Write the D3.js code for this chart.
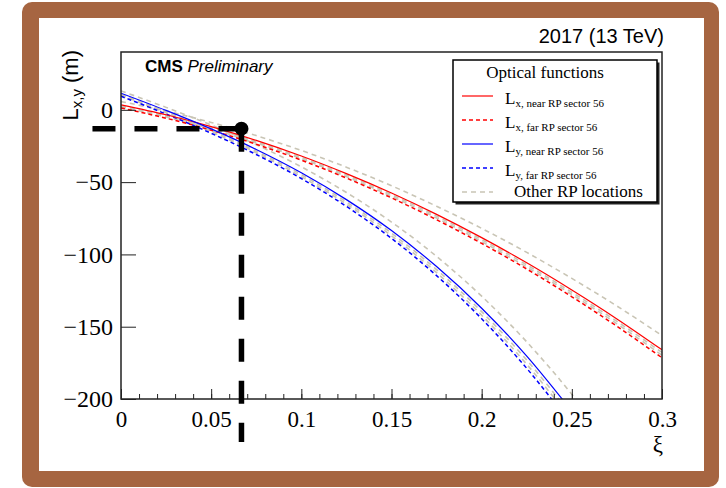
<!DOCTYPE html>
<html>
<head>
<meta charset="utf-8">
<script src="https://cdn.jsdelivr.net/npm/d3@7"></script>
<style>
  body { margin: 0; background: #fff; }
  svg { display: block; }
</style>
</head>
<body>
<script>
// xi sampling points shared by every curve
const xiValues = [0, 0.025, 0.05, 0.075, 0.1, 0.125, 0.15, 0.175, 0.2, 0.225, 0.25, 0.275, 0.3];

// sector 56 optical functions (m)
const lxNear56 = [3.5, -3.4, -11.6, -21.1, -31.9, -44.1, -57.5, -72.3, -88.4, -105.8, -124.6, -144.6, -166.0];
const lxFar56 = [1.3, -5.8, -14.1, -23.8, -34.8, -47.2, -60.9, -76.0, -92.4, -110.1, -129.3, -149.7, -171.5];
const lyNear56 = [11.5, -0.4, -13.2, -27.4, -43.5, -62.1, -83.5, -108.4, -137.2, -170.3, -208.4];
const lyFar56 = [9.4, -2.9, -16.2, -30.9, -47.5, -66.8, -88.9, -114.7, -144.5, -178.8, -218.2];

// other RP locations (grey)
const otherLxA = [5.7, -0.8, -8.7, -17.8, -28.1, -39.7, -52.5, -66.7, -82.0, -98.6, -116.6, -135.7, -156.1];
const otherLxB = [2.8, -4.2, -12.4, -22.0, -32.9, -45.1, -58.6, -73.5, -89.7, -107.2, -126.2, -146.3, -167.8];
const otherLxC = [2.0, -5.0, -13.3, -22.9, -33.8, -46.2, -59.8, -74.8, -91.1, -108.7, -127.7, -148.0, -169.7];
const otherLyA = [13.1, 1.7, -10.5, -24.1, -39.4, -57.2, -77.6, -101.4, -128.9, -160.5, -196.8, -238.2];
const otherLyB = [10.8, -1.2, -14.2, -28.6, -44.8, -63.7, -85.3, -110.5, -139.6, -173.1, -211.7];
const otherLyC = [10.1, -2.1, -15.2, -29.7, -46.2, -65.2, -87.1, -112.6, -142.1, -176.0, -214.9];

// working point guide
const guideXi = 0.0668;
const guideL = -13;
const guideXiStart = -0.0161;
const guideLEnd = -229.7;

const xTicks = [0, 0.05, 0.1, 0.15, 0.2, 0.25, 0.3];
const xMinorTicks = [0, 0.01, 0.02, 0.03, 0.04, 0.05, 0.06, 0.07, 0.08, 0.09, 0.1, 0.11, 0.12, 0.13, 0.14, 0.15,
    0.16, 0.17, 0.18, 0.19, 0.2, 0.21, 0.22, 0.23, 0.24, 0.25, 0.26, 0.27, 0.28, 0.29, 0.3];
const yTicks = [0, -50, -100, -150, -200];

const legendSubs = ["x, near RP sector 56", "x, far RP sector 56", "y, near RP sector 56", "y, far RP sector 56"];

const SERIF = "'Liberation Serif', 'Times New Roman', serif";
const SANS = "'Liberation Sans', Arial, sans-serif";

function init() {
    const dimensions = {
        width: 726,
        height: 488,
        plot: { left: 121, right: 662, top: 52, bottom: 399 },
    };

    const svg = d3.select("body").append("svg")
        .attr("width", dimensions.width)
        .attr("height", dimensions.height);

    // brown picture frame
    svg.append("rect")
        .attr("x", 22).attr("y", 2).attr("width", 697).attr("height", 485)
        .attr("rx", 10).attr("fill", "#a66541");
    svg.append("rect")
        .attr("x", 39).attr("y", 18).attr("width", 665).attr("height", 453)
        .attr("fill", "#fff");

    opticsPlot(svg, dimensions);
}

function opticsPlot(svg, dimensions) {
    const p = dimensions.plot;

    const xScale = d3.scaleLinear().domain([0, 0.3]).range([p.left, p.right]);
    const yScale = d3.scaleLinear().domain([-200, 40]).range([p.bottom, p.top]);

    svg.append("clipPath").attr("id", "plotClip")
        .append("rect")
        .attr("x", p.left).attr("y", p.top)
        .attr("width", p.right - p.left).attr("height", p.bottom - p.top);

    const lineGen = d3.line()
        .x((d, i) => xScale(xiValues[i]))
        .y(d => yScale(d))
        .curve(d3.curveMonotoneX);

    const curves = svg.append("g").attr("clip-path", "url(#plotClip)");

    const greyCurves = [otherLxA, otherLxB, otherLxC, otherLyA, otherLyB, otherLyC];
    greyCurves.forEach(values => {
        curves.append("path")
            .attr("d", lineGen(values))
            .attr("fill", "none")
            .attr("stroke", "#c9c5b5")
            .attr("stroke-width", 1.6)
            .attr("stroke-dasharray", "5,4");
    });

    const mainCurves = [
        { values: lxFar56, color: "#ff0000", dash: "4,3" },
        { values: lyFar56, color: "#0000ff", dash: "4,3" },
        { values: lxNear56, color: "#ff0000", dash: null },
        { values: lyNear56, color: "#0000ff", dash: null },
    ];
    mainCurves.forEach(c => {
        curves.append("path")
            .attr("d", lineGen(c.values))
            .attr("fill", "none")
            .attr("stroke", c.color)
            .attr("stroke-width", c.dash ? 1.5 : 1.2)
            .attr("stroke-dasharray", c.dash);
    });

    // frame
    svg.append("rect")
        .attr("x", p.left).attr("y", p.top)
        .attr("width", p.right - p.left).attr("height", p.bottom - p.top)
        .attr("fill", "none").attr("stroke", "#222").attr("stroke-width", 1.5);

    // x axis
    const xMinor = svg.append("g")
        .attr("transform", `translate(0,${p.bottom})`)
        .call(d3.axisBottom(xScale).tickValues(xMinorTicks).tickSize(-5).tickFormat(""));
    xMinor.select(".domain").remove();

    const xAxis = svg.append("g")
        .attr("transform", `translate(0,${p.bottom})`)
        .call(d3.axisBottom(xScale).tickValues(xTicks).tickSize(-10).tickPadding(12)
            .tickFormat(d => String(+d.toFixed(2))));
    xAxis.select(".domain").remove();
    xAxis.selectAll("text")
        .attr("font-family", SERIF).attr("font-size", 23).attr("fill", "#000");

    // y axis
    const yAxis = svg.append("g")
        .attr("transform", `translate(${p.left},0)`)
        .call(d3.axisLeft(yScale).tickValues(yTicks).tickSize(-15).tickPadding(8)
            .tickFormat(d3.format("d")));
    yAxis.select(".domain").remove();
    yAxis.selectAll("text")
        .attr("font-family", SERIF).attr("font-size", 24).attr("fill", "#000");

    svg.selectAll(".tick line").attr("stroke", "#222");

    // axis titles
    svg.append("text")
        .attr("x", p.right + 1).attr("y", 452)
        .attr("text-anchor", "end")
        .attr("font-family", SERIF).attr("font-size", 23)
        .text("ξ");

    const yTitle = svg.append("text")
        .attr("transform", `translate(78,${p.top - 2}) rotate(-90)`)
        .attr("text-anchor", "end")
        .attr("font-family", SANS).attr("font-size", 22);
    yTitle.append("tspan").text("L");
    yTitle.append("tspan").attr("font-size", 15).attr("dy", 4).text("x,y");
    yTitle.append("tspan").attr("dy", -4).text(" (m)");

    // labels
    svg.append("text")
        .attr("x", p.right + 2).attr("y", 43)
        .attr("text-anchor", "end")
        .attr("font-family", SANS).attr("font-size", 20)
        .text("2017 (13 TeV)");

    const cms = svg.append("text")
        .attr("x", 145).attr("y", 72)
        .attr("font-family", SANS).attr("font-size", 17);
    cms.append("tspan").attr("font-weight", "bold").text("CMS");
    cms.append("tspan").attr("font-style", "italic").text(" Preliminary");

    // guide lines to the working point
    svg.append("line")
        .attr("x1", xScale(guideXi)).attr("y1", yScale(guideL))
        .attr("x2", xScale(guideXiStart)).attr("y2", yScale(guideL))
        .attr("stroke", "#000").attr("stroke-width", 5.5)
        .attr("stroke-dasharray", "23,19");
    svg.append("line")
        .attr("x1", xScale(guideXi)).attr("y1", yScale(guideL))
        .attr("x2", xScale(guideXi)).attr("y2", yScale(guideLEnd))
        .attr("stroke", "#000").attr("stroke-width", 5.5)
        .attr("stroke-dasharray", "23,19");
    svg.append("circle")
        .attr("cx", xScale(guideXi)).attr("cy", yScale(guideL))
        .attr("r", 7).attr("fill", "#000");

    drawLegend(svg);
}

function drawLegend(svg) {
    const box = { x: 453, y: 60, w: 204, h: 142 };
    const legend = svg.append("g");

    legend.append("rect")
        .attr("x", box.x + 2.5).attr("y", box.y + 2.5).attr("width", box.w).attr("height", box.h)
        .attr("fill", "#222");
    legend.append("rect")
        .attr("x", box.x).attr("y", box.y).attr("width", box.w).attr("height", box.h)
        .attr("fill", "#fff").attr("stroke", "#000").attr("stroke-width", 1.5);

    legend.append("text")
        .attr("x", 545).attr("y", 78)
        .attr("text-anchor", "middle")
        .attr("font-family", SERIF).attr("font-size", 17)
        .text("Optical functions");

    const styles = [
        { color: "#ff0000", dash: null },
        { color: "#ff0000", dash: "4,3" },
        { color: "#0000ff", dash: null },
        { color: "#0000ff", dash: "4,3" },
    ];

    legendSubs.forEach((sub, i) => {
        const ly = 96 + i * 24;
        legend.append("line")
            .attr("x1", 462).attr("x2", 493).attr("y1", ly).attr("y2", ly)
            .attr("stroke", styles[i].color)
            .attr("stroke-width", styles[i].dash ? 1.5 : 1.2)
            .attr("stroke-dasharray", styles[i].dash);
        const t = legend.append("text")
            .attr("x", 505).attr("y", ly + 8)
            .attr("font-family", SERIF).attr("font-size", 17);
        t.append("tspan").text("L");
        t.append("tspan").attr("font-size", 11).attr("dy", 3).text(sub);
    });

    legend.append("line")
        .attr("x1", 462).attr("x2", 493).attr("y1", 192).attr("y2", 192)
        .attr("stroke", "#c9c5b5").attr("stroke-width", 1.6)
        .attr("stroke-dasharray", "5,4");
    legend.append("text")
        .attr("x", 514).attr("y", 197)
        .attr("font-family", SERIF).attr("font-size", 17)
        .text("Other RP locations");
}

document.addEventListener("DOMContentLoaded", init);
</script>
</body>
</html>
